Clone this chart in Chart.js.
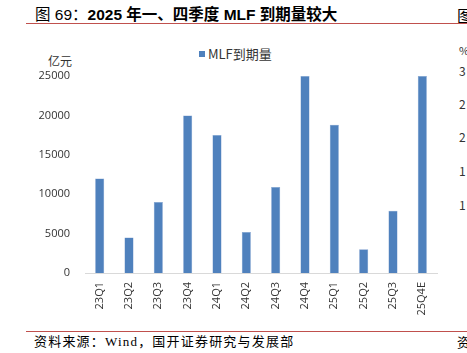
<!DOCTYPE html>
<html>
<head>
<meta charset="utf-8">
<script src="https://cdn.jsdelivr.net/npm/chart.js@4/dist/chart.umd.min.js"></script>
<style>
html,body{margin:0;padding:0;background:#fff;}
body{width:467px;height:353px;position:relative;overflow:hidden;font-family:"Noto Sans CJK SC","Noto Sans",sans-serif;}
#c{position:absolute;left:0;top:0;}
.t{position:absolute;white-space:nowrap;color:#000;}
.rule{position:absolute;left:26px;right:0;height:1px;background:#c0504d;}
</style>
</head>
<body>
<div class="t" style="left:35px;top:4px;font-size:15.5px;line-height:22px;font-family:'Liberation Sans','Noto Sans CJK SC',sans-serif;"><span>图 69：</span><b>2025 年一、四季度 MLF 到期量较大</b></div>
<div class="t" style="left:457px;top:4px;font-size:16px;line-height:22px;">图</div>
<div class="rule" style="top:23px;"></div>
<div class="t" style="left:48px;top:52px;font-size:12px;color:#333;">亿元</div>
<div class="t" style="left:199px;top:44px;font-size:13px;color:#333;"><span style="display:inline-block;width:6px;height:6px;background:#4F81BD;margin-right:3px;vertical-align:2px;"></span>MLF到期量</div>
<div class="t" style="left:459px;top:42px;font-size:11px;color:#333;">%</div>
<div class="t" style="left:459px;top:62px;font-size:12px;color:#333;">3</div>
<div class="t" style="left:459px;top:95px;font-size:12px;color:#333;">2</div>
<div class="t" style="left:459px;top:128px;font-size:12px;color:#333;">2</div>
<div class="t" style="left:459px;top:162px;font-size:12px;color:#333;">1</div>
<div class="t" style="left:459px;top:196px;font-size:12px;color:#333;">1</div>
<div class="rule" style="top:331px;"></div>
<div class="t" style="left:34px;top:334px;font-size:13px;line-height:16px;letter-spacing:1.2px;font-family:'Liberation Serif','Noto Sans CJK SC',serif;">资料来源：Wind，国开证券研究与发展部</div>
<div class="t" style="left:457px;top:334px;font-size:13px;line-height:16px;">资</div>
<canvas id="c" width="467" height="353"></canvas>
<script>
const categories = ["23Q1","23Q2","23Q3","23Q4","24Q1","24Q2","24Q3","24Q4","25Q1","25Q2","25Q3","25Q4E"];
const mlfMaturity = [12000,4500,9000,20000,17500,5200,10900,25000,18800,3000,7900,25000];
const yTicks = [0,5000,10000,15000,20000,25000];

new Chart(document.getElementById('c'), {
  type: 'bar',
  data: {
    labels: categories,
    datasets: [{
      label: 'MLF到期量',
      data: mlfMaturity,
      backgroundColor: '#4F81BD',
      borderColor: '#7F9FCF',
      borderWidth: 0.5,
      barPercentage: 0.62,
      categoryPercentage: 0.5
    }]
  },
  options: {
    responsive: false,
    animation: false,
    devicePixelRatio: 1,
    layout: { padding: { top: 76, right: 30, left: 0, bottom: 0 } },
    plugins: { legend: { display: false }, tooltip: { enabled: false }, title: { display: false } },
    scales: {
      x: {
        grid: { display: false, drawTicks: false },
        border: { display: true, color: '#D9D9D9', width: 1 },
        ticks: {
          color: '#333', font: { family: "'Open Sans','Liberation Sans',sans-serif", size: 11 },
          minRotation: 90, maxRotation: 90, padding: 9, autoSkip: false
        },
        afterFit: (s) => { s.height = 80; }
      },
      y: {
        min: 0, max: 25000,
        afterBuildTicks: (s) => { s.ticks = yTicks.map(v => ({ value: v })); },
        grid: { display: false, drawTicks: false },
        border: { display: false },
        ticks: {
          color: '#333', font: { family: "'Open Sans','Liberation Sans',sans-serif", size: 11 },
          padding: 15, callback: (v) => String(v)
        },
        afterFit: (s) => { s.width = 85; }
      }
    }
  }
});
</script>
</body>
</html>
